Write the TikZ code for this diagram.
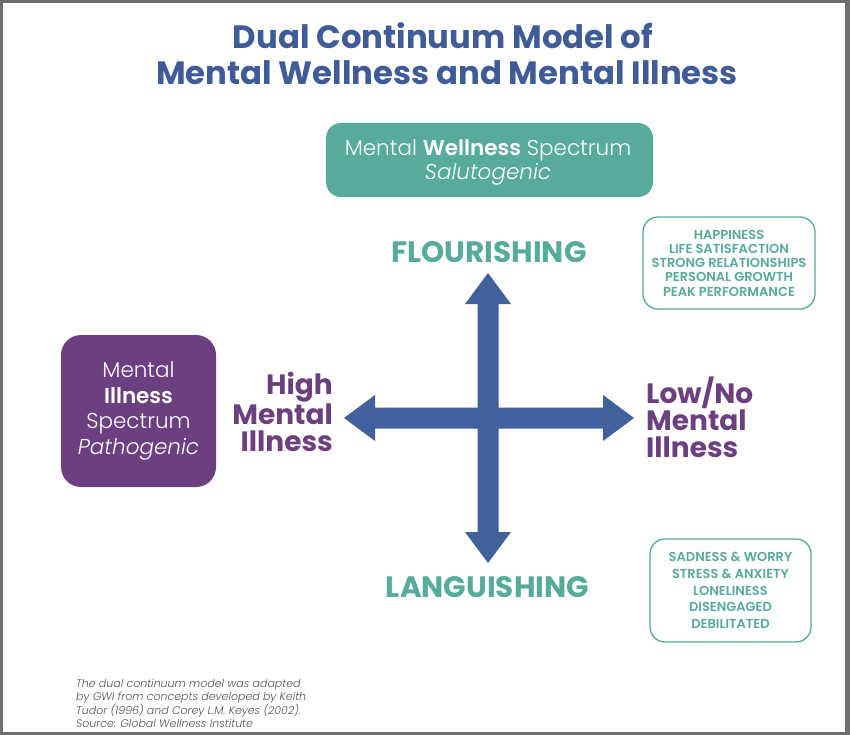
\documentclass[tikz,border=0pt]{standalone}
\usepackage{fontspec}
\setmainfont{Poppins}
\IfFontExistsTF{Poppins Light}{\newfontfamily\lightf{Poppins Light}}{\newfontfamily\lightf{Poppins}}
\IfFontExistsTF{Poppins Light Italic}{\newfontfamily\lightit{Poppins Light Italic}}{\newfontfamily\lightit{Poppins Italic}}
\IfFontExistsTF{Poppins SemiBold}{\newfontfamily\semib{Poppins SemiBold}}{\newfontfamily\semib{Poppins Bold}}
\newfontfamily\boldf{Poppins Bold}
\definecolor{gwiblue}{HTML}{3F5B98}
\definecolor{gwiarrow}{HTML}{42609B}
\definecolor{gwiteal}{HTML}{56AB9B}
\definecolor{gwipurple}{HTML}{6B3F80}
\definecolor{gwigray}{HTML}{555555}
\definecolor{gwiframe}{HTML}{6E6E6E}
\tikzset{
  titletext/.style={font=\boldf\fontsize{32.3}{36}\selectfont, text=gwiblue, anchor=base, inner sep=0pt},
  axislabel/.style={font=\boldf\fontsize{29.5}{30}\selectfont, text=gwiteal, anchor=base, inner sep=0pt},
  illlabel/.style={font=\boldf\fontsize{28}{27}\selectfont, text=gwipurple, inner sep=0pt},
  wellbox/.style={rectangle, rounded corners=15pt, fill=gwiteal, inner sep=0pt},
  welltext/.style={text=white, align=center, font=\lightf\fontsize{21.5}{24}\selectfont, inner sep=0pt},
  illbox/.style={rectangle, rounded corners=20pt, fill=gwipurple, text=white, align=center,
    font=\lightf\fontsize{21.5}{25.5}\selectfont, inner sep=0pt},
  listbox/.style={rectangle, rounded corners=15pt, draw=gwiteal, line width=1.3pt, text=gwiteal,
    align=center, inner sep=0pt},
  notetext/.style={font=\lightit\fontsize{11}{13.3}\selectfont, text=gwigray, align=left, inner sep=0pt},
}
\begin{document}
\begin{tikzpicture}[x=1pt,y=-1pt]
\useasboundingbox (0,0) rectangle (850,735);
\fill[gwiframe, even odd rule] (0,0) rectangle (850,735) (3,3) rectangle (845,732);
\fill[white] (3,3) rectangle (845,732);
% title
\node[titletext] (t1) at (443,49) {Dual Continuum Model of};
\node[titletext] (t2) at (447,85) {Mental Wellness and Mental Illness};
% wellness box
\node[wellbox, minimum width=327pt, minimum height=74pt] (well) at (489.5,160) {};
\node[welltext] (welllbl) at (488,162) {Mental {\semib Wellness} Spectrum\\{\lightit Salutogenic}};
% illness box
\node[illbox, minimum width=155pt, minimum height=152pt] (ill) at (138.5,411)
  {Mental\\{\semib Illness}\\Spectrum\\{\lightit Pathogenic}};
% list boxes
\node[listbox, minimum width=172pt, minimum height=92pt,
  font=\semib\fontsize{13}{14.25}\selectfont] (pos) at (729,263)
  {HAPPINESS\\LIFE SATISFACTION\\STRONG RELATIONSHIPS\\PERSONAL GROWTH\\PEAK PERFORMANCE};
\node[listbox, minimum width=161pt, minimum height=103pt,
  font=\semib\fontsize{13}{16.75}\selectfont] (neg) at (730.5,590.5)
  {SADNESS \& WORRY\\STRESS \& ANXIETY\\LONELINESS\\DISENGAGED\\DEBILITATED};
% axis labels
\node[axislabel] (flour) at (489,262) {FLOURISHING};
\node[axislabel] (lang) at (487.5,597) {LANGUISHING};
\node[illlabel, align=right, anchor=north east] (high) at (333,372) {High\\Mental\\Illness};
\node[illlabel, align=left, anchor=north west] (low) at (646,377) {Low/No\\Mental\\Illness};
% cross arrows
\coordinate (c) at (488,418);
\fill[gwiarrow] (488,273) -- (511,304) -- (498.5,304) -- (498.5,407.5) -- (603,407.5) -- (603,395)
  -- (634,418) -- (603,441) -- (603,428.5) -- (498.5,428.5) -- (498.5,532) -- (511,532)
  -- (488,563) -- (465,532) -- (477.5,532) -- (477.5,428.5) -- (375,428.5) -- (375,441)
  -- (344,418) -- (375,395) -- (375,407.5) -- (477.5,407.5) -- (477.5,304) -- (465,304) -- cycle;
% footnote
\node[notetext, anchor=north west] (note) at (76,679)
  {The dual continuum model was adapted\\by GWI from concepts developed by Keith\\Tudor (1996) and Corey L.M. Keyes (2002).\\Source: Global Wellness Institute};
\end{tikzpicture}
\end{document}
